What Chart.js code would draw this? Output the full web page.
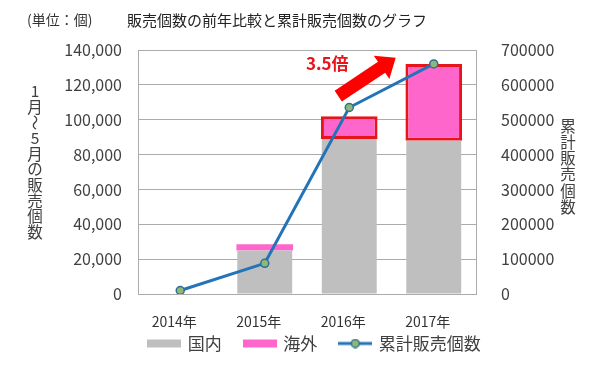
<!DOCTYPE html>
<html><head><meta charset="utf-8">
<script src="https://cdn.jsdelivr.net/npm/chart.js@4/dist/chart.umd.min.js"></script>
<style>html,body{margin:0;padding:0;background:#fff}#wrap{width:600px;height:371px;position:relative}</style>
</head><body><div id="wrap"><canvas id="c" width="600" height="371"></canvas></div>
<script>
const categories = ['2014年', '2015年', '2016年', '2017年'];
const domestic = [0, 25000, 89000, 88000];
const overseas = [0, 3500, 13000, 44000];
const cumulative = [10000, 88000, 535000, 660000];
const seriesNames = ['国内', '海外', '累計販売個数'];
const chartTitle = '販売個数の前年比較と累計販売個数のグラフ';
const unitLabel = '(単位：個)';
const leftAxisTitle = '1月～5月の販売個数';
const rightAxisTitle = '累計販売個数';
const ratioLabel = '3.5倍';

const FONT = '"Noto Sans CJK JP", "Noto Sans", sans-serif';
const GRAY = '#BFBFBF', PINK = '#FF66CC', RED = '#E8141B', BLUE = '#2373B9';
const PT_FILL = '#8DB87A', PT_BORDER = '#2F6F8F';

function mkImg(kind) {
  const c = document.createElement('canvas');
  c.width = 34; c.height = 10;
  const g = c.getContext('2d');
  if (kind === 'line') {
    g.strokeStyle = BLUE; g.lineWidth = 3;
    g.beginPath(); g.moveTo(0, 5); g.lineTo(34, 5); g.stroke();
    g.beginPath(); g.arc(17, 5, 4, 0, Math.PI * 2);
    g.fillStyle = PT_FILL; g.fill(); g.lineWidth = 1.5; g.strokeStyle = PT_BORDER; g.stroke();
  } else {
    g.fillStyle = kind; g.fillRect(0, 1, 34, 8);
  }
  return c;
}
const legendImgs = [mkImg(GRAY), mkImg(PINK), mkImg('line')];

const annot = {
  id: 'annot',
  afterLayout(chart) {
    const lg = chart.legend;
    if (lg) {
      const h = lg.bottom - lg.top;
      lg.left += 15; lg.right += 15;
      lg.top = 312; lg.bottom = lg.top + h;
    }
    const xs = chart.scales.x;
    if (xs) { xs.bottom = 340; }
  },
  afterDraw(chart) {
    const ctx = chart.ctx;
    const xs = chart.scales.x, ys = chart.scales.y;
    ctx.save();
    ctx.fillStyle = '#222';
    ctx.textBaseline = 'middle';
    ctx.textAlign = 'left';
    ctx.font = '15px ' + FONT;
    ctx.fillText(chartTitle, 127, 20);
    ctx.font = '14px ' + FONT;
    ctx.fillStyle = '#333';
    ctx.fillText(unitLabel, 27, 20);
    // vertical axis titles
    ctx.textAlign = 'center';
    ctx.fillStyle = '#404040';
    ctx.font = '15.5px ' + FONT;
    const drawVert = (txt, x, y0, step) => {
      [...txt].forEach((ch, i) => {
        const y = y0 + i * step;
        if (ch === '～') {
          ctx.save(); ctx.translate(x, y); ctx.rotate(Math.PI / 2);
          ctx.fillText(ch, 0, 0); ctx.restore();
        } else ctx.fillText(ch, x, y);
      });
    };
    drawVert(leftAxisTitle, 35, 91, 15.7);
    drawVert(rightAxisTitle, 568, 126, 16.2);
    // annotation arrow
    const x2 = xs.getPixelForValue(2), x3 = xs.getPixelForValue(3);
    const step = x3 - x2;
    const tx = x2 - 0.13 * step, ty = ys.getPixelForValue(113500);
    const hx = x2 + 0.55 * step, hy = ys.getPixelForValue(135500);
    const ang = Math.atan2(hy - ty, hx - tx);
    const len = Math.hypot(hx - tx, hy - ty);
    const sw = 6.5, hw = 14, hl = 17;
    ctx.save();
    ctx.translate(tx, ty); ctx.rotate(ang);
    ctx.beginPath();
    ctx.moveTo(0, -sw); ctx.lineTo(len - hl, -sw); ctx.lineTo(len - hl, -hw);
    ctx.lineTo(len, 0); ctx.lineTo(len - hl, hw); ctx.lineTo(len - hl, sw);
    ctx.lineTo(0, sw); ctx.closePath();
    ctx.fillStyle = '#FF0000'; ctx.fill();
    ctx.restore();
    ctx.fillStyle = RED;
    ctx.font = 'bold 17px ' + FONT;
    ctx.textAlign = 'center';
    ctx.fillText(ratioLabel, x2 - 0.26 * step, ys.getPixelForValue(132000));
    ctx.restore();
  }
};

new Chart(document.getElementById('c'), {
  data: {
    labels: categories,
    datasets: [
      { type: 'bar', label: seriesNames[0], data: domestic, backgroundColor: GRAY, stack: 's', yAxisID: 'y', order: 1,
        barPercentage: 0.65, categoryPercentage: 1 },
      { type: 'bar', label: seriesNames[1], data: overseas, backgroundColor: PINK, stack: 's', yAxisID: 'y', order: 1,
        borderColor: RED, borderWidth: [0, 0, 3, 3], borderSkipped: false,
        barPercentage: 0.67, categoryPercentage: 1 },
      { type: 'line', label: seriesNames[2], data: cumulative, yAxisID: 'y2', order: 0,
        borderColor: BLUE, borderWidth: 3, pointRadius: 4, pointBackgroundColor: PT_FILL,
        pointBorderColor: PT_BORDER, pointBorderWidth: 1.5, tension: 0 }
    ]
  },
  options: {
    responsive: false, animation: false, devicePixelRatio: 1,
    layout: { padding: { top: 50, left: 0, right: 0, bottom: 0 } },
    plugins: {
      tooltip: { enabled: false },
      title: { display: false },
      legend: {
        position: 'bottom',
        labels: {
          usePointStyle: true, pointStyleWidth: 30, boxHeight: 10, padding: 23,
          color: '#404040', font: { family: FONT, size: 17 },
          generateLabels: (chart) => seriesNames.map((n, i) => ({
            text: n, pointStyle: legendImgs[i], datasetIndex: i, hidden: false,
            fillStyle: 'transparent', strokeStyle: 'transparent', lineWidth: 0, fontColor: '#404040'
          }))
        }
      }
    },
    scales: {
      x: {
        stacked: true,
        grid: { display: false, drawTicks: false },
        border: { display: false },
        ticks: { color: '#333', font: { family: FONT, size: 14, lineHeight: 1 }, padding: 21, labelOffset: -6 },
        afterFit: (s) => { s.height = 27; }
      },
      y: {
        position: 'left', stacked: true, min: 0, max: 140000,
        grid: { color: '#ABABAB', drawTicks: false },
        border: { display: true, color: '#ABABAB' },
        ticks: { stepSize: 20000, color: '#404040', padding: 16, font: { family: FONT, size: 16 },
          callback: (v) => v.toLocaleString('en-US') },
        afterFit: (s) => { s.width = 138; }
      },
      y2: {
        position: 'right', min: 0, max: 700000,
        grid: { display: false, drawOnChartArea: false },
        border: { display: true, color: '#ABABAB' },
        ticks: { stepSize: 100000, color: '#404040', padding: 17, font: { family: FONT, size: 16 },
          callback: (v) => String(v) },
        afterFit: (s) => { s.width = 124; }
      }
    }
  },
  plugins: [annot]
});
</script>
</body></html>
